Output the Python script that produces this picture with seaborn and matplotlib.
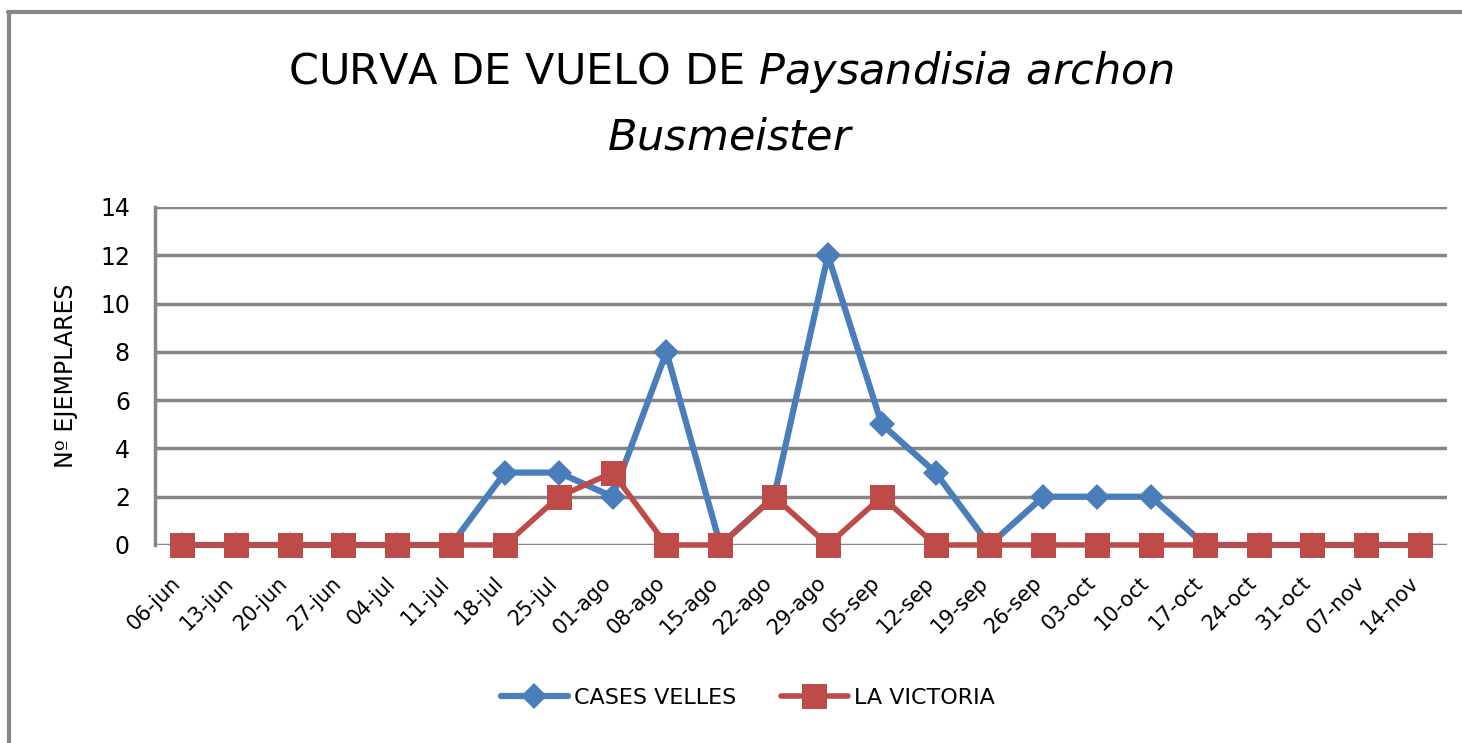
import matplotlib
matplotlib.use("Agg")
import matplotlib.pyplot as plt
import seaborn as sns
import pandas as pd
from matplotlib.lines import Line2D
from matplotlib.transforms import ScaledTranslation

fechas = ["06-jun", "13-jun", "20-jun", "27-jun", "04-jul", "11-jul", "18-jul", "25-jul",
          "01-ago", "08-ago", "15-ago", "22-ago", "29-ago", "05-sep", "12-sep", "19-sep",
          "26-sep", "03-oct", "10-oct", "17-oct", "24-oct", "31-oct", "07-nov", "14-nov"]
cases_velles = [0, 0, 0, 0, 0, 0, 3, 3, 2, 8, 0, 2, 12, 5, 3, 0, 2, 2, 2, 0, 0, 0, 0, 0]
la_victoria = [0, 0, 0, 0, 0, 0, 0, 2, 3, 0, 0, 2, 0, 2, 0, 0, 0, 0, 0, 0, 0, 0, 0, 0]
series_names = ["CASES VELLES", "LA VICTORIA"]
y_ticks = [0, 2, 4, 6, 8, 10, 12, 14]

BLUE = "#4A7EBB"
RED = "#BE4B48"
GRID = "#868686"

sns.set_theme(style="white")
plt.rcParams["font.family"] = ["DejaVu Sans"]
plt.rcParams["text.color"] = "black"
plt.rcParams["axes.labelcolor"] = "black"
plt.rcParams["xtick.color"] = "black"
plt.rcParams["ytick.color"] = "black"
plt.rcParams["mathtext.fontset"] = "custom"
plt.rcParams["mathtext.it"] = "DejaVu Sans:italic"
plt.rcParams["mathtext.rm"] = "DejaVu Sans"

df = pd.DataFrame({
    "fecha": fechas * 2,
    "idx": list(range(len(fechas))) * 2,
    "valor": cases_velles + la_victoria,
    "serie": [series_names[0]] * len(fechas) + [series_names[1]] * len(fechas),
})

fig = plt.figure(figsize=(14.62, 7.43), dpi=100)
ax = fig.add_axes([155 / 1462, 1 - 545 / 743, (1447 - 155) / 1462, (545 - 207) / 743])

sns.lineplot(data=df[df.serie == series_names[0]], x="idx", y="valor", ax=ax,
             color=BLUE, lw=4.5, marker="D", markersize=13, markeredgewidth=0,
             legend=False, zorder=3, clip_on=False)
sns.lineplot(data=df[df.serie == series_names[1]], x="idx", y="valor", ax=ax,
             color=RED, lw=4, marker="s", markersize=18, markeredgewidth=0,
             legend=False, zorder=4, clip_on=False)

ax.set_xlim(-0.5, len(fechas) - 0.5)
ax.set_ylim(0, 14)
ax.set_yticks(y_ticks)
ax.set_yticklabels([str(v) for v in y_ticks], fontsize=17)
ax.set_xticks(range(len(fechas)))
ax.set_xticklabels(fechas, rotation=45, ha="right", rotation_mode="anchor", fontsize=15)
ax.tick_params(axis="x", pad=20, length=0)
ax.tick_params(axis="y", pad=18, length=0)
offset = ScaledTranslation(-12 / 100, 0, fig.dpi_scale_trans)
for lbl in ax.get_xticklabels():
    lbl.set_transform(lbl.get_transform() + offset)
ax.set_xlabel("")
ax.set_ylabel("Nº EJEMPLARES", fontsize=17, labelpad=16)
ax.yaxis.grid(True, color=GRID, lw=2.5)
ax.set_axisbelow(True)
for s in ["top", "right", "bottom"]:
    ax.spines[s].set_visible(False)
ax.spines["left"].set_color(GRID)
ax.spines["left"].set_linewidth(2.5)

fig.text(0.5, 1 - 72 / 743, r"CURVA DE VUELO DE $\it{Paysandisia\ archon}$",
         ha="center", va="center", fontsize=31)
fig.text(0.5, 1 - 137 / 743, r"$\it{Busmeister}$", ha="center", va="center", fontsize=31)

handles = [
    Line2D([], [], color=BLUE, lw=4.5, marker="D", markersize=13, markeredgewidth=0),
    Line2D([], [], color=RED, lw=4, marker="s", markersize=18, markeredgewidth=0),
]
fig.legend(handles, series_names, loc="center", bbox_to_anchor=(748 / 1462, 1 - 698 / 743),
           ncol=2, frameon=False, fontsize=16, handlelength=3, columnspacing=2.0,
           handletextpad=0.3)

# outer chart frame (top and left edges visible)
fig.add_artist(Line2D([8 / 1462, 1], [1 - 12 / 743, 1 - 12 / 743], color=GRID, lw=3,
                      transform=fig.transFigure))
fig.add_artist(Line2D([9 / 1462, 9 / 1462], [0, 1 - 12 / 743], color=GRID, lw=3,
                      transform=fig.transFigure))

fig.savefig("out.png", dpi=100, facecolor="white")
